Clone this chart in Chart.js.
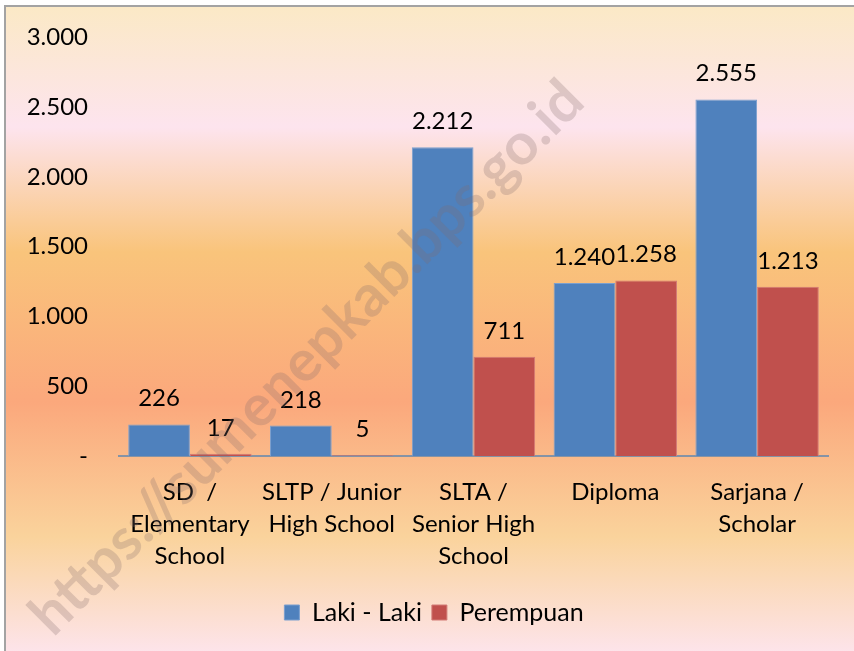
<!DOCTYPE html>
<html>
<head>
<meta charset="utf-8">
<script src="https://cdn.jsdelivr.net/npm/chart.js@4"></script>
<style>
    html, body { margin: 0; padding: 0; background: #fff; }
    #frame {
        position: absolute; left: 4px; top: 5px; width: 900px; height: 646px;
        border-left: 2px solid #a3a3a3; border-top: 2px solid #a3a3a3;
        background: linear-gradient(to bottom, #fbe9c6 0px, #fde4ee 120px, #f9c47b 245px, #fba87c 395px, #fad39c 530px, #fde4eb 646px);
    }
    #wrap { position: absolute; left: 0; top: 0; width: 854px; height: 651px; }
</style>
</head>
<body>
<div id="frame"></div>
<div id="wrap"><canvas id="chart" width="854" height="651"></canvas></div>
<script>
// Daten
const categories = [
    ["SD  /", "Elementary", "School"],
    ["SLTP / Junior", "High School"],
    ["SLTA /", "Senior High", "School"],
    ["Diploma"],
    ["Sarjana /", "Scholar"]
];
const lakiLaki = [226, 218, 2212, 1240, 2555];
const perempuan = [17, 5, 711, 1258, 1213];
const seriesNames = ["Laki - Laki", "Perempuan"];
const yTicks = [0, 500, 1000, 1500, 2000, 2500, 3000];
const watermark = "https://sumenepkab.bps.go.id";

const FONT = "Lato";
const FS = 24;

// Zahl mit Punkt als Tausendertrenner
function fmt(v) {
    if (v === 0) return "-";
    return String(v).replace(/\B(?=(\d{3})+(?!\d))/g, ".");
}

// Wasserzeichen, halbtransparent über allem
const watermarkPlugin = {
    id: "watermark",
    afterDraw(chart) {
        const ctx = chart.ctx;
        ctx.save();
        ctx.translate(307, 358);
        ctx.rotate(-Math.PI / 4);
        let size = 50;
        ctx.font = "bold " + size + "px " + FONT;
        const w = ctx.measureText(watermark).width;
        size = size * 755 / w;
        ctx.font = "bold " + size + "px " + FONT;
        ctx.fillStyle = "rgba(130,110,110,0.26)";
        ctx.textAlign = "center";
        ctx.textBaseline = "middle";
        ctx.fillText(watermark, 0, 0);
        ctx.restore();
    }
};

// Legende etwas nach rechts schieben
const legendShift = {
    id: "legendShift",
    afterLayout(chart) {
        chart.legend.left += 20;
        chart.legend.right += 20;
    }
};

// Werte über den Balken
const valueLabels = {
    id: "valueLabels",
    afterDatasetsDraw(chart) {
        const ctx = chart.ctx;
        ctx.save();
        ctx.font = FS + "px " + FONT;
        ctx.fillStyle = "#000";
        ctx.textAlign = "center";
        ctx.textBaseline = "alphabetic";
        chart.data.datasets.forEach((ds, i) => {
            chart.getDatasetMeta(i).data.forEach((bar, j) => {
                ctx.fillText(fmt(ds.data[j]), bar.x, bar.y - 18);
            });
        });
        ctx.restore();
    }
};

new Chart(document.getElementById("chart"), {
    type: "bar",
    data: {
        labels: categories,
        datasets: [
            { label: seriesNames[0], data: lakiLaki, backgroundColor: "#4f81bd", borderColor: "#7a9fcf", borderWidth: 1 },
            { label: seriesNames[1], data: perempuan, backgroundColor: "#c0504d", borderColor: "#d27a77", borderWidth: 1 }
        ]
    },
    options: {
        responsive: false,
        animation: false,
        layout: { padding: { top: 21, right: 26, bottom: 16, left: 0 } },
        datasets: { bar: { categoryPercentage: 0.87, barPercentage: 1.0 } },
        scales: {
            x: {
                grid: { display: false },
                border: { display: true, color: "#8593a6", width: 2 },
                ticks: { color: "#000", font: { family: FONT, size: FS, lineHeight: 1.33 }, padding: 12, maxRotation: 0, autoSkip: false },
                afterFit(scale) { scale.height = 134; }
            },
            y: {
                min: 0, max: 3000,
                afterBuildTicks(scale) { scale.ticks = yTicks.map(v => ({ value: v })); },
                grid: { display: false },
                border: { display: false },
                ticks: { color: "#000", font: { family: FONT, size: FS }, padding: 23, callback: v => fmt(v) },
                afterFit(scale) { scale.width = 119; }
            }
        },
        plugins: {
            legend: {
                position: "bottom",
                labels: { color: "#000", font: { family: FONT, size: 25 }, boxWidth: 15, boxHeight: 15, padding: 10 }
            },
            tooltip: { enabled: false }
        }
    },
    plugins: [watermarkPlugin, legendShift, valueLabels]
});
</script>
</body>
</html>
